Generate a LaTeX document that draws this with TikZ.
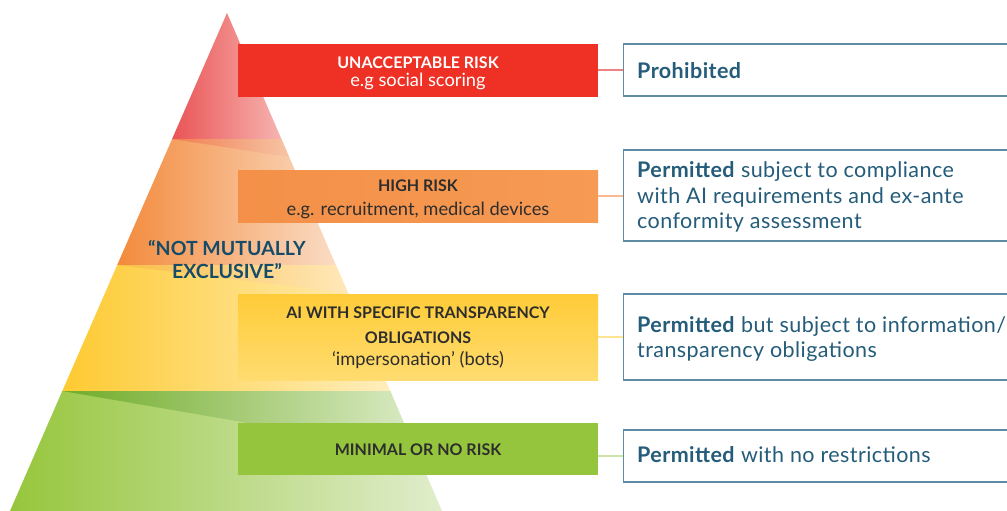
\documentclass[tikz,border=0pt]{standalone}
\usepackage{fontspec}
\setmainfont{Lato}
\newfontfamily\rfont[LetterSpace=2]{Lato}
\definecolor{redbox}{RGB}{238,49,36}
\definecolor{orgbox}{RGB}{244,144,72}
\definecolor{yelbox}{RGB}{255,204,56}
\definecolor{yelboxb}{RGB}{255,220,112}
\definecolor{grnbox}{RGB}{149,197,61}
\definecolor{darktxt}{RGB}{45,45,45}
\definecolor{teal}{RGB}{36,92,122}
\definecolor{rborder}{RGB}{95,140,165}
\definecolor{nme}{RGB}{22,76,106}
\tikzset{
  lbox/.style={minimum width=360pt, inner sep=0pt, anchor=west},
  ttl/.style={anchor=base, inner sep=0pt, font=\fontsize{16}{19}\selectfont\bfseries},
  sub/.style={anchor=base, inner sep=0pt, font=\fontsize{18.3}{22}\selectfont},
  rbox/.style={draw=rborder, line width=1.1pt, fill=white, anchor=west, minimum width=400pt, inner sep=0pt},
  rtxt/.style={anchor=base west, inner sep=0pt, text=teal, font=\rfont\fontsize{21.5}{25}\selectfont},
  nmetxt/.style={anchor=base, inner sep=0pt, text=nme, font=\fontsize{19.5}{23}\selectfont\bfseries},
  conn/.style={line width=2pt}
}
\begin{document}
\begin{tikzpicture}[x=1pt,y=-1pt]
\clip (0,0) rectangle (1007,511);
\fill[white] (0,0) rectangle (1007,511);
% pyramid bands
\shade[left color={rgb,255:red,234;green,84;blue,86}, right color={rgb,255:red,246;green,180;blue,176}] (227,13) -- (281.4,139) -- (172.1,139) -- cycle;
\shade[left color={rgb,255:red,243;green,138;blue,60}, right color={rgb,255:red,250;green,220;blue,196}] (172.1,139) -- (281.4,139) -- (335.8,265) -- (117.2,265) -- cycle;
\shade[left color={rgb,255:red,240;green,125;blue,80}, right color={rgb,255:red,247;green,196;blue,165}] (172.1,139) -- (281.4,139) -- (289,157) -- cycle;
\shade[left color={rgb,255:red,254;green,202;blue,50}, right color={rgb,255:red,255;green,238;blue,188}] (117.2,265) -- (335.8,265) -- (390.2,391) -- (62.3,391) -- cycle;
\shade[left color={rgb,255:red,250;green,188;blue,70}, right color={rgb,255:red,255;green,232;blue,185}] (117.2,265) -- (335.8,265) -- (348,293) -- cycle;
\shade[left color={rgb,255:red,150;green,198;blue,60}, right color={rgb,255:red,224;green,237;blue,204}] (62.3,391) -- (390.2,391) -- (442,511) -- (10,511) -- cycle;
\shade[left color={rgb,255:red,112;green,172;blue,40}, right color={rgb,255:red,218;green,234;blue,196}] (62.3,391) -- (390.2,391) -- (416,452) -- cycle;
% not mutually exclusive
\node[nmetxt] (nme1) at (227,255.5) {“NOT MUTUALLY};
\node[nmetxt] (nme2) at (227,278) {EXCLUSIVE”};
% left boxes
\node[lbox, fill=redbox, minimum height=53pt] (lu) at (238,70.5) {};
\node[ttl, text=white] (lu1) at (418,68.8) {UNACCEPTABLE RISK};
\node[sub, text=white] (lu2) at (418,86) {e.g social scoring};
\node[lbox, left color=orgbox, right color={rgb,255:red,246;green,154;blue,84}, minimum height=52pt] (lh) at (238,196) {};
\node[ttl, text=darktxt] (lh1) at (418,191.7) {HIGH RISK};
\node[sub, text=darktxt] (lh2) at (418,215) {e.g. recruitment, medical devices};
\node[lbox, top color=yelbox, bottom color=yelboxb, minimum height=86pt] (lt) at (238,337) {};
\node[ttl, text=darktxt] (lt1) at (418,318.5) {AI WITH SPECIFIC TRANSPARENCY};
\node[ttl, text=darktxt] (lt2) at (418,343.3) {OBLIGATIONS};
\node[sub, text=darktxt] (lt3) at (418,365.5) {‘impersonation’ (bots)};
\node[lbox, fill=grnbox, minimum height=52pt] (lm) at (238,449) {};
\node[ttl, text=darktxt] (lm1) at (418,455.8) {MINIMAL OR NO RISK};
% right boxes
\node[rbox, minimum height=52pt] (r1) at (623,70) {};
\node[rtxt] (r1a) at (637,78.5) {\textbf{Prohibited}};
\node[rbox, minimum height=91pt] (r2) at (623,195.5) {};
\node[rtxt] (r2a) at (637,177) {\textbf{Permitted} subject to compliance};
\node[rtxt] (r2b) at (637,203) {with AI requirements and ex-ante};
\node[rtxt] (r2c) at (637,228.5) {conformity assessment};
\node[rbox, minimum height=86pt] (r3) at (623,337) {};
\node[rtxt] (r3a) at (637,332) {\textbf{Permitted} but subject to information/};
\node[rtxt] (r3b) at (637,357.5) {transparency obligations};
\node[rbox, minimum height=52pt] (r4) at (623,456) {};
\node[rtxt] (r4a) at (637,462) {\textbf{Permitted} with no restrictions};
% connectors
\draw[conn, draw={rgb,255:red,238;green,130;blue,128}] (r1.west) -- (r1.west -| lu.east);
\draw[conn, draw={rgb,255:red,248;green,186;blue,142}] (r2.west) -- (r2.west -| lh.east);
\draw[conn, draw={rgb,255:red,255;green,228;blue,145}] (r3.west) -- (r3.west -| lt.east);
\draw[conn, draw={rgb,255:red,206;green,228;blue,168}] (r4.west) -- (r4.west -| lm.east);
\end{tikzpicture}
\end{document}
